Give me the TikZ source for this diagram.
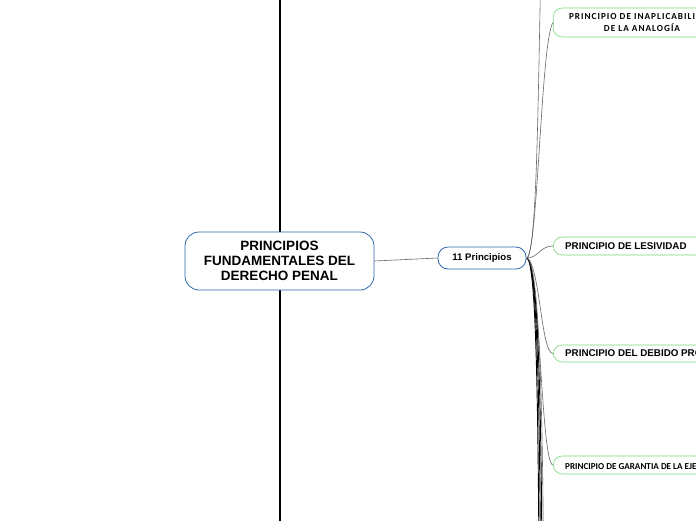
\documentclass[tikz,border=0pt]{standalone}
\usepackage{fontspec}
\setmainfont{Liberation Sans}
\newfontfamily\narrowfont[LetterSpace=11]{Carlito}
\newfontfamily\plainnarrow{Carlito}
\begin{document}
\begin{tikzpicture}[x=1pt,y=-1pt,
  mainbox/.style={draw=cyan!50!blue!85!black, line width=0.8pt, rounded corners=14pt, fill=white,
     minimum width=189pt, minimum height=58pt, align=center, inner sep=0pt,
     font=\fontsize{13.5}{15}\selectfont\bfseries},
  hubbox/.style={draw=cyan!50!blue!85!black, line width=0.8pt, rounded corners=10pt, fill=white,
     minimum width=88pt, minimum height=22pt, inner sep=0pt, font=\fontsize{9.6}{10}\selectfont\bfseries},
  leafbox/.style={draw=green!45!white!85!black, line width=0.6pt, rounded corners=9pt, fill=white,
     minimum width=170pt, inner sep=0pt},
  leaftext/.style={font=\fontsize{9.8}{10}\selectfont\bfseries, anchor=west, inner sep=0pt},
  narrowtext/.style={font=\narrowfont\fontsize{9.2}{12}\selectfont\bfseries, inner sep=0pt, align=center},
  garatext/.style={font=\plainnarrow\fontsize{9.1}{12}\selectfont\bfseries, inner sep=0pt, anchor=west},
  conn/.style={draw=gray!80!black, line width=0.6pt},
  darkconn/.style={draw=black, line width=0.9pt}
]
\clip (0,0) rectangle (696,520);
\fill[white] (0,0) rectangle (696,520);
% vertical spine
\coordinate (vtop) at (280,-5);
\coordinate (vbot) at (280,525);
\draw[line width=2.4pt] (vtop) -- (vbot);

% central and hub
\node[mainbox] (main) at (279.5,261) {PRINCIPIOS\\FUNDAMENTALES DEL\\DERECHO PENAL};
\node[hubbox] (hub) at (482,258) {11 Principios};
\draw[conn] (main.east) -- (hub.west);

% leaves
\node[leafbox, minimum height=29pt, anchor=west] (inap) at (553,22.5) {};
\node[narrowtext] (inapt) at (642,23) {PRINCIPIO DE INAPLICABILIDAD\\DE LA ANALOGÍA};
\node[leafbox, minimum height=18pt, anchor=west] (lesi) at (553,246) {};
\node[leaftext] (lesit) at (565,246) {PRINCIPIO DE LESIVIDAD};
\node[leafbox, minimum height=17pt, anchor=west] (debi) at (553,353.5) {};
\node[leaftext] (debit) at (565,353.5) {PRINCIPIO DEL DEBIDO PROCESO};
\node[leafbox, minimum height=18pt, anchor=west] (gara) at (553,465) {};
\node[garatext] (garat) at (565,465.5) {PRINCIPIO DE GARANTIA DE LA EJECUCIÓN};

% off-frame ends
\coordinate (offtop) at (541,-40);
\coordinate (offb1) at (539,560);
\coordinate (offb2) at (540.5,560);
\coordinate (offb3) at (542,560);
\coordinate (offb4) at (543.5,560);
\coordinate (h) at (527,258);

% connectors
\draw[conn] (h) .. controls (537,250) and (538,100) .. (offtop);
\draw[conn] (h) .. controls (538,250) and (541,40) .. (inap.west);
\draw[conn] (h) .. controls (538,258) and (540,246) .. (lesi.west);
\draw[conn] (h) .. controls (540,265) and (541,353.5) .. (debi.west);
\draw[conn] (h) .. controls (540,265) and (541,465) .. (gara.west);
\draw[darkconn] (h) .. controls (536,262) and (538,400) .. (offb1);
\draw[darkconn] (h) .. controls (537,262) and (539.5,400) .. (offb2);
\draw[darkconn] (h) .. controls (538,262) and (541,400) .. (offb3);
\draw[conn] (h) .. controls (539,262) and (542.5,400) .. (offb4);
\end{tikzpicture}
\end{document}
